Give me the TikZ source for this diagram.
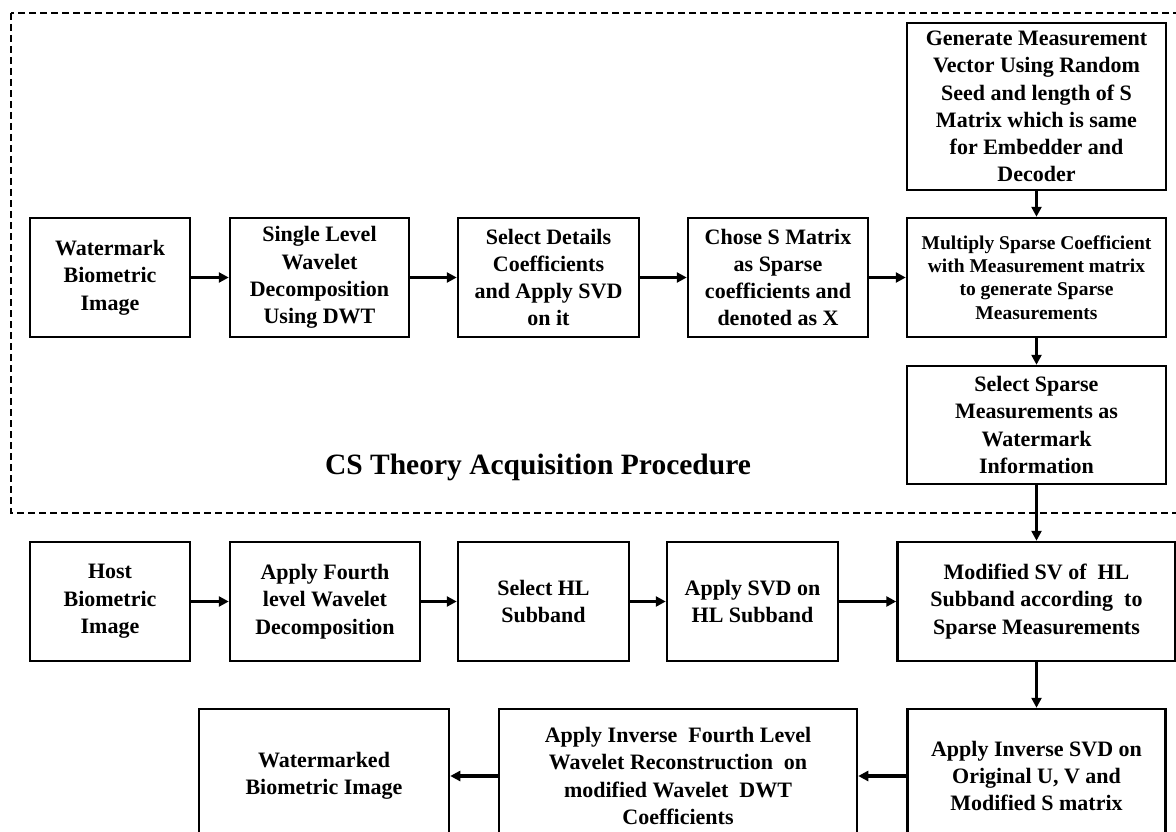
\documentclass[tikz,border=0pt]{standalone}
\usepackage{fontspec}
\setmainfont{Liberation Serif}
\usetikzlibrary{arrows.meta}
\begin{document}
\begin{tikzpicture}[x=1pt,y=-1pt,
  box/.style={draw=black, line width=2.5pt, fill=white, inner sep=0pt, align=center,
    font=\fontsize{22}{27.3}\selectfont\bfseries},
  smallbox/.style={box, font=\fontsize{19.5}{23.3}\selectfont\bfseries},
  arr/.style={line width=3.3pt, -{Triangle[length=10pt,width=10pt]}},
  dashbox/.style={draw=black, line width=1.8pt, dash pattern=on 7pt off 4pt}
]
\useasboundingbox (0,0) rectangle (1176,832);
\clip (0,0) rectangle (1176,832);
\fill[white] (0,0) rectangle (1176,832);

% dashed region
\draw[dashbox] (11,13) rectangle (1190,513);
\node[font=\fontsize{29.5}{33}\selectfont\bfseries] (title) at (538,467) {CS Theory Acquisition Procedure};

% row 1
\node[box, minimum width=160pt, minimum height=119pt] (b1) at (110,277.5) {Watermark\\Biometric\\Image};
\node[box, minimum width=179pt, minimum height=119pt] (b2) at (319.5,277.5) {Single Level\\Wavelet\\Decomposition\\Using DWT};
\node[box, minimum width=181pt, minimum height=119pt] (b3) at (548.5,277.5) {Select Details\\Coefficients\\and Apply SVD\\on it};
\node[box, minimum width=180pt, minimum height=119pt] (b4) at (778,277.5) {Chose S Matrix\\as Sparse\\coefficients and\\denoted as X};
\node[smallbox, minimum width=259pt, minimum height=119pt] (b5) at (1036.5,277.5) {Multiply Sparse Coefficient\\with Measurement matrix\\to generate Sparse\\Measurements};
\node[box, minimum width=259pt, minimum height=167pt] (gen) at (1036.5,106.5) {Generate Measurement\\Vector Using Random\\Seed and length of S\\Matrix which is same\\for Embedder and\\Decoder};
\node[box, minimum width=259pt, minimum height=118pt] (sel) at (1036.5,425) {Select Sparse\\Measurements as\\Watermark\\Information};

% row 2
\node[box, minimum width=160pt, minimum height=119pt] (host) at (110,601.5) {Host\\Biometric\\Image};
\node[box, minimum width=190pt, minimum height=119pt] (af) at (325,601.5) {Apply Fourth\\level Wavelet\\Decomposition};
\node[box, minimum width=171pt, minimum height=119pt] (shl) at (543.5,601.5) {Select HL\\Subband};
\node[box, minimum width=171pt, minimum height=119pt] (asvd) at (752.5,601.5) {Apply SVD on\\HL Subband};
\node[box, minimum width=278pt, minimum height=119pt] (msv) at (1036.5,601.5) {Modified SV of\ \ HL\\Subband according\ \ to\\Sparse Measurements};

% row 3
\node[box, minimum width=250pt, minimum height=134pt] (wm) at (324,776) {Watermarked\\Biometric Image};
\node[box, minimum width=358pt, minimum height=134pt] (aif) at (678,776) {Apply Inverse\ \ Fourth Level\\Wavelet Reconstruction\ \ on\\modified Wavelet\ \ DWT\\Coefficients};
\node[box, minimum width=258pt, minimum height=134pt] (ais) at (1036.5,776) {Apply Inverse SVD on\\Original U, V and\\Modified S matrix};

% connectors
\draw[arr] (b1) -- (b2);
\draw[arr] (b2) -- (b3);
\draw[arr] (b3) -- (b4);
\draw[arr] (b4) -- (b5);
\draw[arr] (gen) -- (b5);
\draw[arr] (b5) -- (sel);
\draw[arr] (sel) -- (msv);
\draw[arr] (host) -- (af);
\draw[arr] (af) -- (shl);
\draw[arr] (shl) -- (asvd);
\draw[arr] (asvd) -- (msv);
\draw[arr] (msv) -- (ais);
\draw[arr] (ais) -- (aif);
\draw[arr] (aif) -- (wm);
\end{tikzpicture}
\end{document}
